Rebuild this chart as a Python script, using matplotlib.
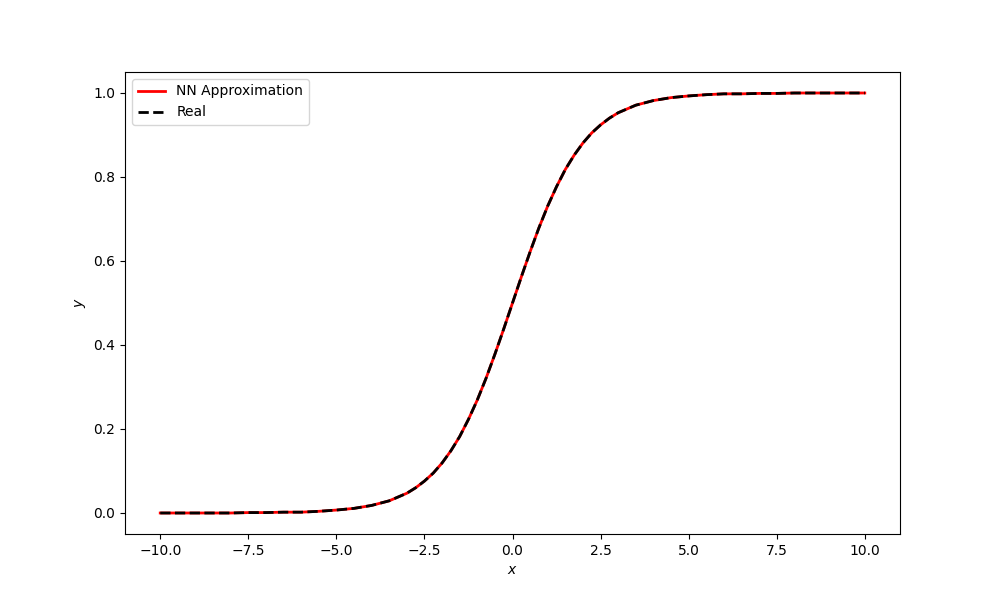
import matplotlib
matplotlib.use("Agg")
import matplotlib.pyplot as plt

x_vals = [-10.0, -9.5, -9.0, -8.5, -8.0, -7.5, -7.0, -6.5, -6.0, -5.5, -5.0, -4.5,
          -4.0, -3.5, -3.0, -2.75, -2.5, -2.25, -2.0, -1.75, -1.5, -1.25, -1.0, -0.75,
          -0.5, -0.25, 0.0, 0.25, 0.5, 0.75, 1.0, 1.25, 1.5, 1.75, 2.0, 2.25, 2.5, 2.75,
          3.0, 3.5, 4.0, 4.5, 5.0, 5.5, 6.0, 6.5, 7.0, 7.5, 8.0, 8.5, 9.0, 9.5, 10.0]

nn_approx = [0.000, 0.000, 0.000, 0.000, 0.000, 0.001, 0.001, 0.002, 0.002, 0.004, 0.007, 0.011,
             0.018, 0.029, 0.047, 0.060, 0.076, 0.095, 0.119, 0.148, 0.182, 0.223, 0.269, 0.321,
             0.378, 0.438, 0.500, 0.562, 0.622, 0.679, 0.731, 0.777, 0.818, 0.852, 0.881, 0.905, 0.924, 0.940,
             0.953, 0.971, 0.982, 0.989, 0.993, 0.996, 0.998, 0.998, 0.999, 0.999, 1.000, 1.000, 1.000, 1.000, 1.000]

real = [0.000, 0.000, 0.000, 0.000, 0.000, 0.001, 0.001, 0.002, 0.002, 0.004, 0.007, 0.011,
        0.018, 0.029, 0.047, 0.060, 0.076, 0.095, 0.119, 0.148, 0.182, 0.223, 0.269, 0.321,
        0.378, 0.438, 0.500, 0.562, 0.622, 0.679, 0.731, 0.777, 0.818, 0.852, 0.881, 0.905, 0.924, 0.940,
        0.953, 0.971, 0.982, 0.989, 0.993, 0.996, 0.998, 0.998, 0.999, 0.999, 1.000, 1.000, 1.000, 1.000, 1.000]

fig, ax = plt.subplots(figsize=(10, 6), dpi=100)
ax.plot(x_vals, nn_approx, color="red", linewidth=2, label="NN Approximation")
ax.plot(x_vals, real, color="black", linestyle="--", linewidth=2, label="Real")
ax.set_xlabel("$x$")
ax.set_ylabel("$y$")
ax.legend(loc="upper left")
fig.savefig("out.png", dpi=100)
